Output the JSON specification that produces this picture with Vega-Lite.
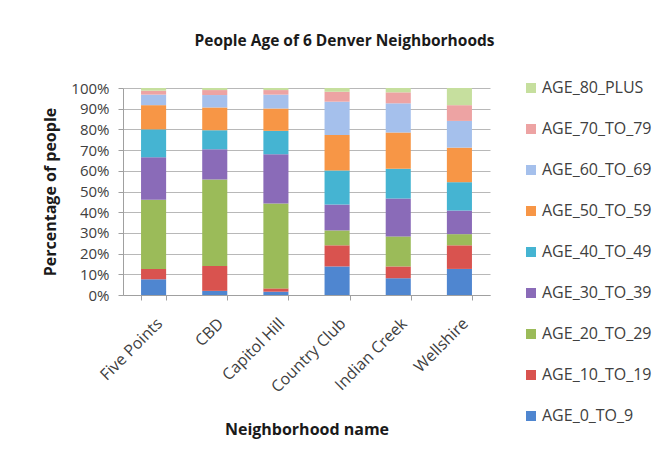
{
  "$schema": "https://vega.github.io/schema/vega-lite/v6.json",
  "width": 367,
  "height": 207,
  "autosize": {"type": "none"},
  "padding": {"left": 123, "top": 88, "right": 180, "bottom": 168},
  "background": "white",
  "title": {
    "text": "People Age of 6 Denver Neighborhoods",
    "font": "Open Sans",
    "fontSize": 15.5,
    "fontWeight": "bold",
    "color": "#1a1a1a",
    "anchor": "middle",
    "dx": 38,
    "offset": 31
  },
  "data": {
    "values": [
      {"hood": "Five Points", "age": "AGE_0_TO_9", "k": 0, "v": 7.6},
      {"hood": "Five Points", "age": "AGE_10_TO_19", "k": 1, "v": 5.0},
      {"hood": "Five Points", "age": "AGE_20_TO_29", "k": 2, "v": 33.5},
      {"hood": "Five Points", "age": "AGE_30_TO_39", "k": 3, "v": 20.5},
      {"hood": "Five Points", "age": "AGE_40_TO_49", "k": 4, "v": 13.5},
      {"hood": "Five Points", "age": "AGE_50_TO_59", "k": 5, "v": 11.7},
      {"hood": "Five Points", "age": "AGE_60_TO_69", "k": 6, "v": 5.1},
      {"hood": "Five Points", "age": "AGE_70_TO_79", "k": 7, "v": 1.9},
      {"hood": "Five Points", "age": "AGE_80_PLUS", "k": 8, "v": 1.3},
      {"hood": "CBD", "age": "AGE_0_TO_9", "k": 0, "v": 2.0},
      {"hood": "CBD", "age": "AGE_10_TO_19", "k": 1, "v": 12.0},
      {"hood": "CBD", "age": "AGE_20_TO_29", "k": 2, "v": 41.8},
      {"hood": "CBD", "age": "AGE_30_TO_39", "k": 3, "v": 14.6},
      {"hood": "CBD", "age": "AGE_40_TO_49", "k": 4, "v": 9.2},
      {"hood": "CBD", "age": "AGE_50_TO_59", "k": 5, "v": 11.0},
      {"hood": "CBD", "age": "AGE_60_TO_69", "k": 6, "v": 6.0},
      {"hood": "CBD", "age": "AGE_70_TO_79", "k": 7, "v": 2.4},
      {"hood": "CBD", "age": "AGE_80_PLUS", "k": 8, "v": 1.0},
      {"hood": "Capitol Hill", "age": "AGE_0_TO_9", "k": 0, "v": 1.6},
      {"hood": "Capitol Hill", "age": "AGE_10_TO_19", "k": 1, "v": 1.6},
      {"hood": "Capitol Hill", "age": "AGE_20_TO_29", "k": 2, "v": 41.0},
      {"hood": "Capitol Hill", "age": "AGE_30_TO_39", "k": 3, "v": 23.8},
      {"hood": "Capitol Hill", "age": "AGE_40_TO_49", "k": 4, "v": 11.3},
      {"hood": "Capitol Hill", "age": "AGE_50_TO_59", "k": 5, "v": 10.8},
      {"hood": "Capitol Hill", "age": "AGE_60_TO_69", "k": 6, "v": 6.7},
      {"hood": "Capitol Hill", "age": "AGE_70_TO_79", "k": 7, "v": 2.2},
      {"hood": "Capitol Hill", "age": "AGE_80_PLUS", "k": 8, "v": 1.0},
      {"hood": "Country Club", "age": "AGE_0_TO_9", "k": 0, "v": 13.8},
      {"hood": "Country Club", "age": "AGE_10_TO_19", "k": 1, "v": 10.2},
      {"hood": "Country Club", "age": "AGE_20_TO_29", "k": 2, "v": 7.2},
      {"hood": "Country Club", "age": "AGE_30_TO_39", "k": 3, "v": 12.5},
      {"hood": "Country Club", "age": "AGE_40_TO_49", "k": 4, "v": 16.5},
      {"hood": "Country Club", "age": "AGE_50_TO_59", "k": 5, "v": 17.1},
      {"hood": "Country Club", "age": "AGE_60_TO_69", "k": 6, "v": 16.1},
      {"hood": "Country Club", "age": "AGE_70_TO_79", "k": 7, "v": 4.8},
      {"hood": "Country Club", "age": "AGE_80_PLUS", "k": 8, "v": 1.8},
      {"hood": "Indian Creek", "age": "AGE_0_TO_9", "k": 0, "v": 8.1},
      {"hood": "Indian Creek", "age": "AGE_10_TO_19", "k": 1, "v": 5.7},
      {"hood": "Indian Creek", "age": "AGE_20_TO_29", "k": 2, "v": 14.5},
      {"hood": "Indian Creek", "age": "AGE_30_TO_39", "k": 3, "v": 18.3},
      {"hood": "Indian Creek", "age": "AGE_40_TO_49", "k": 4, "v": 14.4},
      {"hood": "Indian Creek", "age": "AGE_50_TO_59", "k": 5, "v": 17.5},
      {"hood": "Indian Creek", "age": "AGE_60_TO_69", "k": 6, "v": 14.1},
      {"hood": "Indian Creek", "age": "AGE_70_TO_79", "k": 7, "v": 5.3},
      {"hood": "Indian Creek", "age": "AGE_80_PLUS", "k": 8, "v": 2.1},
      {"hood": "Wellshire", "age": "AGE_0_TO_9", "k": 0, "v": 12.6},
      {"hood": "Wellshire", "age": "AGE_10_TO_19", "k": 1, "v": 11.4},
      {"hood": "Wellshire", "age": "AGE_20_TO_29", "k": 2, "v": 5.4},
      {"hood": "Wellshire", "age": "AGE_30_TO_39", "k": 3, "v": 11.4},
      {"hood": "Wellshire", "age": "AGE_40_TO_49", "k": 4, "v": 13.7},
      {"hood": "Wellshire", "age": "AGE_50_TO_59", "k": 5, "v": 16.7},
      {"hood": "Wellshire", "age": "AGE_60_TO_69", "k": 6, "v": 12.9},
      {"hood": "Wellshire", "age": "AGE_70_TO_79", "k": 7, "v": 7.6},
      {"hood": "Wellshire", "age": "AGE_80_PLUS", "k": 8, "v": 8.3}
    ]
  },
  "mark": {"type": "bar"},
  "encoding": {
    "x": {
      "field": "hood",
      "type": "nominal",
      "sort": null,
      "scale": {"paddingInner": 0.59, "paddingOuter": 0.295},
      "axis": {
        "title": "Neighborhood name",
        "titleFont": "Open Sans",
        "titleFontSize": 16,
        "titleFontWeight": "bold",
        "titleColor": "#1a1a1a",
        "titlePadding": 26,
        "labelAngle": -45,
        "labelFont": "Open Sans",
        "labelFontSize": 16,
        "labelColor": "#404040",
        "labelPadding": 15,
        "tickBand": "extent",
        "tickColor": "#a0a0a0",
        "tickSize": 5,
        "domain": true,
        "domainColor": "#a0a0a0"
      }
    },
    "y": {
      "field": "v",
      "type": "quantitative",
      "stack": "normalize",
      "axis": {
        "title": "Percentage of people",
        "titleFont": "Open Sans",
        "titleFontSize": 16,
        "titleFontWeight": "bold",
        "titleColor": "#1a1a1a",
        "titlePadding": 12,
        "format": ".0%",
        "values": [0, 0.1, 0.2, 0.3, 0.4, 0.5, 0.6, 0.7, 0.8, 0.9, 1],
        "labelFont": "Open Sans",
        "labelFontSize": 15,
        "labelColor": "#404040",
        "labelPadding": 9,
        "grid": true,
        "gridColor": "#b8b8b8",
        "tickColor": "#a0a0a0",
        "tickSize": 5,
        "domain": true,
        "domainColor": "#a0a0a0"
      }
    },
    "color": {
      "field": "age",
      "type": "nominal",
      "scale": {
        "domain": ["AGE_80_PLUS", "AGE_70_TO_79", "AGE_60_TO_69", "AGE_50_TO_59", "AGE_40_TO_49", "AGE_30_TO_39", "AGE_20_TO_29", "AGE_10_TO_19", "AGE_0_TO_9"],
        "range": ["#c6df9e", "#eda3a3", "#a5c0ec", "#f79646", "#45b4d2", "#8a6bb8", "#9bbb59", "#d9534f", "#4f86d0"]
      },
      "legend": {
        "title": null,
        "orient": "none",
        "legendX": 400,
        "legendY": -8,
        "symbolType": "square",
        "symbolSize": 100,
        "symbolStrokeWidth": 0,
        "labelFont": "Open Sans",
        "labelFontSize": 16,
        "labelColor": "#404040",
        "labelOffset": 3,
        "rowPadding": 25
      }
    },
    "order": {"field": "k", "type": "quantitative", "sort": "ascending"}
  },
  "config": {
    "view": {"stroke": null}
  }
}
